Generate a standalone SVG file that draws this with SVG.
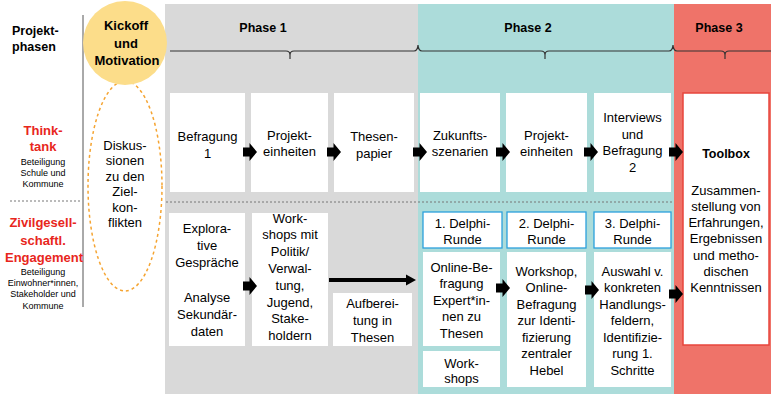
<svg xmlns="http://www.w3.org/2000/svg" xmlns:xlink="http://www.w3.org/1999/xlink" width="771" height="394" viewBox="0 0 771 394">
<style>
text{font-family:"Liberation Sans",Arial,sans-serif;fill:#000;}
.t{font-size:13px;text-anchor:middle;}
.b{font-size:12.5px;font-weight:bold;text-anchor:middle;}
.r{font-size:13px;font-weight:bold;text-anchor:middle;fill:#e8261c;}
.s{font-size:9px;text-anchor:middle;}
.box{fill:#fff;}
.hd{fill:#fff;stroke:#2ba0dc;stroke-width:1.3;}
.dash{stroke:#777;stroke-width:1;stroke-dasharray:2 2;fill:none;}
</style>
<defs>
<path id="blk" d="M0,-4.5 H6.5 V-9 L14,0 L6.5,9 V4.5 H0 Z" fill="#000"/>
</defs>
<rect width="771" height="394" fill="#fff"/>
<g id="regions">
<rect x="165" y="4" width="253" height="390" fill="#d9d9d9"/>
<rect x="418" y="4" width="256" height="390" fill="#acdcda"/>
<rect x="674" y="4" width="97" height="390" fill="#ef7369"/>
</g>
<g id="timeline">
<path d="M170 51 H286 Q290 51 290 55 V59 M290 55 Q290 51 294 51 H414 Q417.5 51 418 45 Q418.5 51 422 51 H541 Q545 51 545 55 V59 M545 55 Q545 51 549 51 H669 Q672.5 51 673 45 Q673.5 51 677 51 H721 Q725 51 725 55 V59 M725 55 Q725 51 729 51 H771" fill="none" stroke="#333" stroke-width="1.2"/>
<text class="b" x="263" y="31.5">Phase 1</text>
<text class="b" x="528" y="31.5">Phase 2</text>
<text class="b" x="719" y="31.5">Phase 3</text>
</g>
<g id="left-labels">
<line x1="83" y1="15" x2="83" y2="307" stroke="#555" stroke-width="1"/>
<line x1="10" y1="201" x2="82" y2="201" class="dash"/>
<text x="12" y="34.5" style="font-size:12.5px;font-weight:bold">Projekt-</text>
<text x="12" y="50.5" style="font-size:12.5px;font-weight:bold">phasen</text>
<text class="r" x="43" y="134.5">Think-</text>
<text class="r" x="43" y="150.5">tank</text>
<text class="s" x="43" y="165">Beteiligung</text>
<text class="s" x="43" y="176">Schule und</text>
<text class="s" x="43" y="187">Kommune</text>
<text class="r" x="43" y="226.5">Zivilgesell-</text>
<text class="r" x="43" y="244.5">schaftl.</text>
<text class="r" x="44" y="261.5">Engagement</text>
<text class="s" x="43" y="274.5">Beteiligung</text>
<text class="s" x="43" y="285.5">Einwohner*innen,</text>
<text class="s" x="43" y="297">Stakeholder und</text>
<text class="s" x="43" y="308.5">Kommune</text>
</g>
<line x1="166" y1="202" x2="673" y2="202" class="dash"/>
<g id="kickoff">
<ellipse cx="125" cy="186" rx="37" ry="105" fill="none" stroke="#f5a431" stroke-width="1.5" stroke-dasharray="3 3"/>
<circle cx="125" cy="43" r="42" fill="#fcdd8a"/>
<text class="b" x="126" y="29.5" style="font-size:13px">Kickoff</text>
<text class="b" x="126" y="47.5" style="font-size:13px">und</text>
<text class="b" x="127" y="64.5" style="font-size:13px">Motivation</text>
<text class="t" x="125" y="149.5">Diskus-</text>
<text class="t" x="125" y="165">sionen</text>
<text class="t" x="125" y="180.5">zu den</text>
<text class="t" x="125" y="196">Ziel-</text>
<text class="t" x="125" y="211.5">kon-</text>
<text class="t" x="125" y="227">flikten</text>
</g>
<g id="befragung1">
<rect class="box" x="170" y="93" width="75" height="99"/>
<text class="t" x="207.5" y="141">Befragung</text>
<text class="t" x="207.5" y="157.5">1</text>
</g>
<g id="projekteinheiten1">
<rect class="box" x="251" y="93" width="77" height="99"/>
<text class="t" x="289.5" y="139.5">Projekt-</text>
<text class="t" x="289.5" y="156">einheiten</text>
</g>
<g id="thesenpapier">
<rect class="box" x="334" y="93" width="80" height="99"/>
<text class="t" x="374" y="141">Thesen-</text>
<text class="t" x="374" y="157.5">papier</text>
</g>
<g id="zukunftsszenarien">
<rect class="box" x="420" y="93" width="80" height="99"/>
<text class="t" x="460" y="139.5">Zukunfts-</text>
<text class="t" x="460" y="156">szenarien</text>
</g>
<g id="projekteinheiten2">
<rect class="box" x="506" y="93" width="81" height="99"/>
<text class="t" x="546.5" y="139.5">Projekt-</text>
<text class="t" x="546.5" y="156">einheiten</text>
</g>
<g id="interviews">
<rect class="box" x="594" y="93" width="77" height="99"/>
<text class="t" x="632.5" y="122">Interviews</text>
<text class="t" x="632.5" y="138.5">und</text>
<text class="t" x="632.5" y="155">Befragung</text>
<text class="t" x="632.5" y="171.5">2</text>
</g>
<g id="toolbox">
<rect x="683" y="93" width="86" height="252" fill="#fff" stroke="#e8463c" stroke-width="1.5"/>
<text class="b" x="726" y="157.5">Toolbox</text>
<text class="t" x="726" y="194.5">Zusammen-</text>
<text class="t" x="726" y="210.8">stellung von</text>
<text class="t" x="726" y="227">Erfahrungen,</text>
<text class="t" x="726" y="243.3">Ergebnissen</text>
<text class="t" x="726" y="259.6">und metho-</text>
<text class="t" x="726" y="276">dischen</text>
<text class="t" x="726" y="292.3">Kenntnissen</text>
</g>
<g id="explorative">
<rect class="box" x="169" y="213" width="76" height="133"/>
<text class="t" x="207" y="232.5">Explora-</text>
<text class="t" x="207" y="249.5">tive</text>
<text class="t" x="207" y="266.5">Gespräche</text>
<text class="t" x="207" y="301.5">Analyse</text>
<text class="t" x="207" y="318.5">Sekundär-</text>
<text class="t" x="207" y="335.5">daten</text>
</g>
<g id="workshops-politik">
<rect class="box" x="252" y="213" width="76" height="133"/>
<text class="t" x="290" y="222.5">Work-</text>
<text class="t" x="290" y="239.3">shops mit</text>
<text class="t" x="290" y="256.1">Politik/</text>
<text class="t" x="290" y="272.9">Verwal-</text>
<text class="t" x="290" y="289.7">tung,</text>
<text class="t" x="290" y="306.5">Jugend,</text>
<text class="t" x="290" y="323.3">Stake-</text>
<text class="t" x="290" y="340.1">holdern</text>
</g>
<g id="aufbereitung">
<rect class="box" x="333" y="293" width="79" height="53"/>
<text class="t" x="372.5" y="307.5">Aufberei-</text>
<text class="t" x="372.5" y="324.5">tung in</text>
<text class="t" x="372.5" y="341.5">Thesen</text>
</g>
<g id="delphi1">
<rect class="hd" x="423" y="212" width="79" height="36"/>
<text class="t" x="462.5" y="227.5">1. Delphi-</text>
<text class="t" x="462.5" y="243.5">Runde</text>
</g>
<g id="online-befragung">
<rect class="box" x="423" y="252" width="77" height="94"/>
<text class="t" x="461.5" y="271.5">Online-Be-</text>
<text class="t" x="461.5" y="288">fragung</text>
<text class="t" x="461.5" y="304.5">Expert*in-</text>
<text class="t" x="461.5" y="321">nen zu</text>
<text class="t" x="461.5" y="337.5">Thesen</text>
</g>
<g id="workshops-small">
<rect class="box" x="423" y="351" width="77" height="36"/>
<text class="t" x="461.5" y="367.5">Work-</text>
<text class="t" x="461.5" y="383">shops</text>
</g>
<g id="delphi2">
<rect class="hd" x="507" y="212" width="79" height="36"/>
<text class="t" x="546.5" y="227.5">2. Delphi-</text>
<text class="t" x="546.5" y="243.5">Runde</text>
</g>
<g id="workshop-online">
<rect class="box" x="507" y="252" width="79" height="135"/>
<text class="t" x="546.5" y="275.5">Workshop,</text>
<text class="t" x="546.5" y="292">Online-</text>
<text class="t" x="546.5" y="308.5">Befragung</text>
<text class="t" x="546.5" y="325">zur Identi-</text>
<text class="t" x="546.5" y="341.5">fizierung</text>
<text class="t" x="546.5" y="358">zentraler</text>
<text class="t" x="546.5" y="374.5">Hebel</text>
</g>
<g id="delphi3">
<rect class="hd" x="594" y="212" width="77" height="36"/>
<text class="t" x="632.5" y="227.5">3. Delphi-</text>
<text class="t" x="632.5" y="243.5">Runde</text>
</g>
<g id="auswahl">
<rect class="box" x="594" y="252" width="77" height="135"/>
<text class="t" x="632.5" y="275.5">Auswahl v.</text>
<text class="t" x="632.5" y="292">konkreten</text>
<text class="t" x="632.5" y="308.5">Handlungs-</text>
<text class="t" x="632.5" y="325">feldern,</text>
<text class="t" x="632.5" y="341.5">Identifizie-</text>
<text class="t" x="632.5" y="358">rung 1.</text>
<text class="t" x="632.5" y="374.5">Schritte</text>
</g>
<g id="connectors">
<use xlink:href="#blk" x="243" y="152"/>
<use xlink:href="#blk" x="327" y="152"/>
<use xlink:href="#blk" x="413" y="152"/>
<use xlink:href="#blk" x="496" y="152"/>
<use xlink:href="#blk" x="584" y="152"/>
<use xlink:href="#blk" x="669" y="152"/>
<use xlink:href="#blk" x="243" y="286"/>
<use xlink:href="#blk" x="496" y="288"/>
<use xlink:href="#blk" x="585" y="290"/>
<use xlink:href="#blk" x="669" y="294"/>
<line x1="329" y1="280" x2="408" y2="280" stroke="#000" stroke-width="4"/>
<path d="M406 274.5 L416 280 L406 285.5 Z" fill="#000"/>
</g>
</svg>
